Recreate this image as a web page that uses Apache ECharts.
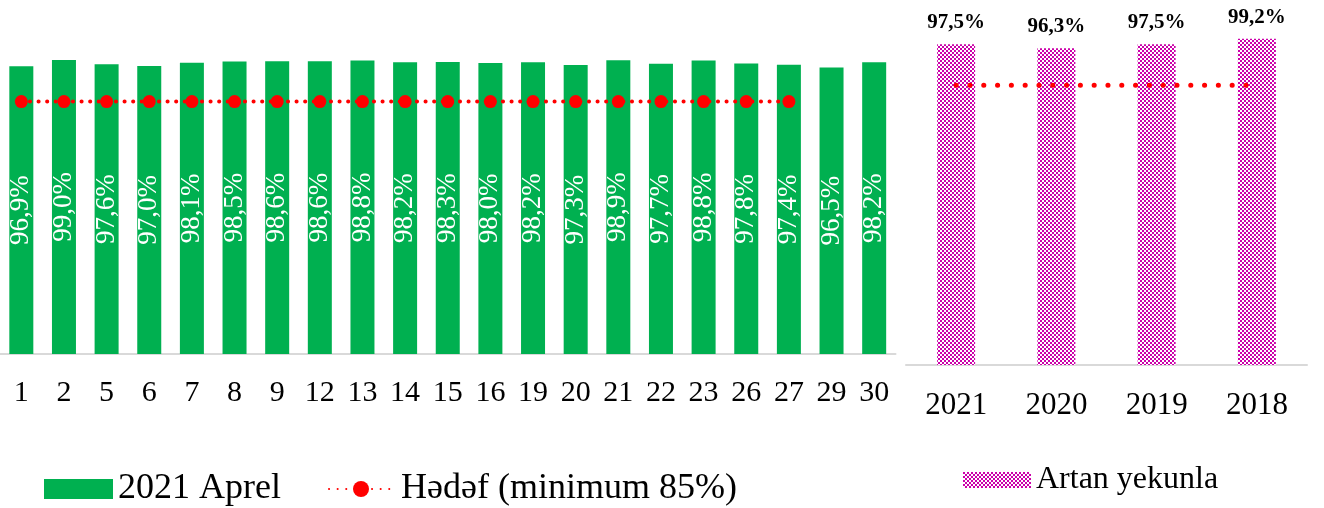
<!DOCTYPE html>
<html><head><meta charset="utf-8">
<script src="https://cdn.jsdelivr.net/npm/echarts@6/dist/echarts.min.js"></script>
<style>html,body{margin:0;padding:0;background:#fff}#c{width:1324px;height:508px}</style>
</head><body><div id="c"></div>
<script>
const days = ['1','2','5','6','7','8','9','12','13','14','15','16','19','20','21','22','23','26','27','29','30'];
const aprel = [96.9,99.0,97.6,97.0,98.1,98.5,98.6,98.6,98.8,98.2,98.3,98.0,98.2,97.3,98.9,97.7,98.8,97.8,97.4,96.5,98.2];
const target = [85,85,85,85,85,85,85,85,85,85,85,85,85,85,85,85,85,85,85,null,null];
const years = ['2021','2020','2019','2018'];
const cumulative = [97.5,96.3,97.5,99.2];
const yearTarget = [85,85,85,85];

const FONT = 'Liberation Serif';
const fmt = v => v.toFixed(1).replace('.', ',') + '%';

// checkerboard pattern
const pc = document.createElement('canvas');
pc.width = 4; pc.height = 4;
const g = pc.getContext('2d');
g.fillStyle = '#ffffff'; g.fillRect(0,0,4,4);
g.fillStyle = '#CC00AA';
g.fillRect(0,0,2,2); g.fillRect(2,2,2,2);
const pattern = {image: pc, repeat: 'repeat'};

const chart = echarts.init(document.getElementById('c'), null, {renderer: 'canvas'});
chart.setOption({
  animation: false,
  textStyle: {fontFamily: FONT},
  grid: [
    {left: -2, width: 897.5, top: 57, height: 297},
    {left: 906, width: 401, top: 36, height: 329}
  ],
  xAxis: [
    {type: 'category', gridIndex: 0, data: days,
     axisLine: {lineStyle: {color: '#D9D9D9', width: 2}}, axisTick: {show: false},
     axisLabel: {color: '#000', fontFamily: FONT, fontSize: 30, margin: 24, interval: 0}},
    {type: 'category', gridIndex: 1, data: years,
     axisLine: {lineStyle: {color: '#D9D9D9', width: 2}}, axisTick: {show: false},
     axisLabel: {color: '#000', fontFamily: FONT, fontSize: 31, margin: 25, interval: 0}}
  ],
  yAxis: [
    {type: 'value', gridIndex: 0, min: 0, max: 100, show: false},
    {type: 'value', gridIndex: 1, min: 0, max: 100, show: false}
  ],
  legend: [
    {left: 39, top: 466, itemWidth: 69, itemHeight: 20,
     textStyle: {fontFamily: FONT, fontSize: 36, color: '#000'},
     data: [{name: '2021 Aprel', icon: 'rect'}]},
    {left: 323, top: 466, itemWidth: 64, itemHeight: 20,
     textStyle: {fontFamily: FONT, fontSize: 36, color: '#000', padding: [0, 0, 0, 3]},
     data: [{name: 'Hədəf (minimum 85%)'}]},
    {left: 958, top: 459, itemWidth: 68, itemHeight: 16,
     textStyle: {fontFamily: FONT, fontSize: 32, color: '#000'},
     data: [{name: 'Artan yekunla', icon: 'rect'}]}
  ],
  series: [
    {name: '2021 Aprel', type: 'bar', xAxisIndex: 0, yAxisIndex: 0, data: aprel, barWidth: 24,
     itemStyle: {color: '#00B050'},
     label: {show: true, position: 'inside', rotate: 90, color: '#fff', fontFamily: FONT, fontSize: 27,
             formatter: p => fmt(p.value)}},
    {name: 'Hədəf (minimum 85%)', type: 'line', xAxisIndex: 0, yAxisIndex: 0, data: target, z: 5,
     symbol: 'circle', symbolSize: 13, itemStyle: {color: '#FF0000'},
     lineStyle: {color: '#FF0000', width: 4, type: [0.1, 8.5], cap: 'round'}},
    {name: 'Artan yekunla', type: 'bar', xAxisIndex: 1, yAxisIndex: 1, data: cumulative, barWidth: 38,
     itemStyle: {color: pattern},
     label: {show: true, position: 'top', distance: 11, color: '#000', fontFamily: FONT, fontWeight: 'bold', fontSize: 21,
             formatter: p => fmt(p.value)}},
    {name: 'Hədəf 2', type: 'line', xAxisIndex: 1, yAxisIndex: 1, data: yearTarget, z: 5,
     symbol: 'none', lineStyle: {color: '#FF0000', width: 5, type: [0.1, 13.7], cap: 'round'}}
  ]
});
</script></body></html>
